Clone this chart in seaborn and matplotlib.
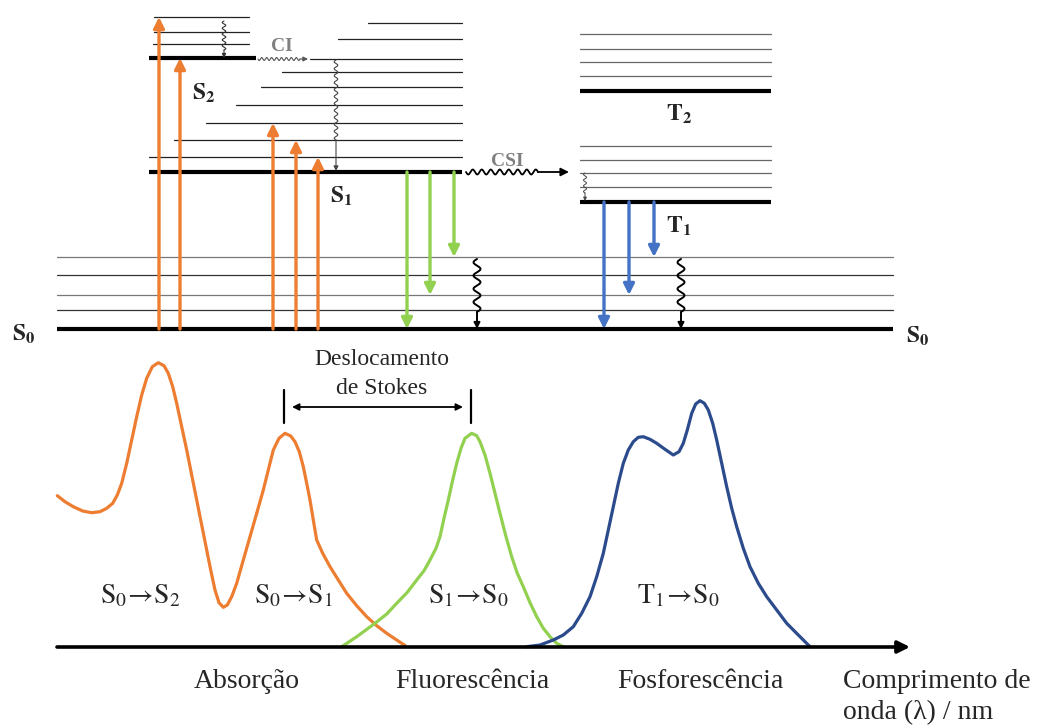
import numpy as np
import pandas as pd
import matplotlib
matplotlib.use("Agg")
import matplotlib.pyplot as plt
import seaborn as sns

# ---------------- data (diagram coordinates, y grows downward) ----------------
# singlet S2 vibrational levels
S2_VIB_Y = [17, 32, 44]
S2_VIB_X0 = [154, 154, 153]
S2_VIB_X1 = 249
S2_Y = 58
S2_XR = [149, 256]

# singlet S1 vibrational levels
S1_VIB_Y = [23, 39, 59, 72, 87, 105, 123, 140, 157]
S1_VIB_X0 = [368, 338, 310, 282, 261, 236, 206, 174, 149]
S1_VIB_X1 = 462
S1_Y = 172
S1_XR = [149, 462]

# triplets
T2_VIB_Y = [34, 49, 62, 76]
T2_Y = 91
T1_VIB_Y = [146, 160, 173, 187]
T1_Y = 202
T_XR = [580, 771]

# ground state
S0_VIB_Y = [257, 275, 295, 310]
S0_Y = 329
S0_XR = [57, 893]

# radiative transitions
ABS_X = [159, 180, 273, 296, 318]
ABS_TOP = [17, 58, 123, 140, 157]
FLU_X = [407, 430, 454]
FLU_END = [329, 295, 257]
PHO_X = [604, 629, 654]
PHO_END = [329, 295, 257]

# spectra (x, y)
ABS_CX = [57.3, 65, 73.3, 82.7, 91.7, 100, 106.7, 112.7, 117.3, 121.7, 126.7, 131.7, 136.7,
          141.7, 146.7, 152.3, 158.3, 164, 168.3, 172.7, 176.7, 181.7, 186.7, 191.7, 196.7,
          201.7, 206.7, 210.7, 215, 219, 223.3, 227.3, 231.7, 236.7, 243.3, 250, 256.7,
          263.3, 268.3, 273.3, 279, 285, 290.7, 295, 299.3, 303.3, 306.7, 310, 313.3,
          316.7, 322.7, 330, 338.3, 346.7, 356.7, 366.7, 376.7, 386.7, 396.7, 405]
ABS_CY = [495.7, 501.7, 506.7, 511, 512.7, 511.7, 508.3, 503.3, 495, 483.3, 463.3, 440, 416.7,
          395, 378.3, 366.7, 362.7, 365.7, 373.3, 386.7, 403.3, 426.7, 450, 475, 500,
          525, 550, 570, 590, 602.7, 607.3, 605, 596.7, 583.3, 560, 536.7, 513.3,
          490, 470, 450, 438.3, 433.3, 436, 441.7, 451.7, 466.7, 483.3, 500, 520,
          540, 553.3, 566.7, 580, 593.3, 605.7, 616.7, 625.7, 633.3, 640, 645.5]
FLU_CX = [341.7, 356.7, 375, 386.7, 396.7, 407.3, 416.7, 424, 430, 436, 440, 444, 448.3,
          452.7, 456.7, 461, 465, 471.7, 476.7, 480, 485, 490, 495, 500, 506, 511.7,
          517.3, 523.3, 530, 536.7, 543.3, 550, 556.7, 563.3]
FLU_CY = [646.7, 636.7, 623.3, 614, 603.3, 592.3, 580, 570.7, 560, 548.3, 536.7, 518.3, 500,
          480, 463.3, 448.3, 438.3, 433.3, 435.7, 441.7, 455, 473.3, 493.3, 513.3, 536.7, 556.7,
          573.3, 586.7, 602.7, 616.7, 628.3, 636.7, 643.3, 646.7]
PHO_CX = [526.7, 540, 553.3, 563.3, 573.3, 581.7, 590, 596.7, 603.3, 608.3, 613.3, 618.3,
          623.3, 628.3, 633.3, 638.3, 643.3, 650, 656.7, 665, 673.3, 679, 683.3, 687.3,
          691.7, 695.7, 700, 704.3, 708.3, 712.7, 716.7, 721.7, 726.7, 731.7, 736.7,
          743.3, 750, 758.3, 766.7, 776.7, 786.7, 798.3, 810]
PHO_CY = [646.7, 645, 640, 635, 626.7, 613.3, 596.7, 576.7, 553.3, 530, 506.7, 483.3,
          463.3, 450, 441.7, 437.3, 436.7, 439.3, 443.3, 449.3, 455, 451.7, 443.3, 430,
          413.3, 404, 400.7, 403.3, 410, 423.3, 440, 463.3, 486.7, 508.3, 526.7,
          548.3, 566.7, 583.3, 596.7, 610, 623.3, 635, 646.7]
AXIS_Y = 647
AXIS_X = [57, 910]

TRANS_LABELS = [r"$\mathrm{S_0\!\rightarrow\!S_2}$", r"$\mathrm{S_0\!\rightarrow\!S_1}$",
                r"$\mathrm{S_1\!\rightarrow\!S_0}$", r"$\mathrm{T_1\!\rightarrow\!S_0}$"]
TRANS_X = [141, 294, 469, 678]
BAND_LABELS = ["Absorção", "Fluorescência", "Fosforescência"]
BAND_X = [247, 472, 700]

ORANGE = "#ED7D31"
GREEN = "#92D050"
BLUE = "#4472C4"
NAVY = "#2C4B8C"

# ---------------- figure ----------------
sns.set_theme(style="white")
plt.rcParams["font.family"] = ["Liberation Serif", "DejaVu Serif"]
plt.rcParams["mathtext.fontset"] = "stix"

fig = plt.figure(figsize=(10.4, 7.25), dpi=100)
ax = fig.add_axes([0, 0, 1, 1])

thin = dict(color="#222222", lw=0.9)
thick = dict(color="black", lw=3.0, solid_capstyle="butt")

# S2
for y, x0 in zip(S2_VIB_Y, S2_VIB_X0):
    ax.plot([x0, S2_VIB_X1], [y, y], **thin)
ax.plot(S2_XR, [S2_Y, S2_Y], **thick)
# S1
for y, x0 in zip(S1_VIB_Y, S1_VIB_X0):
    ax.plot([x0, S1_VIB_X1], [y, y], **thin)
ax.plot(S1_XR, [S1_Y, S1_Y], **thick)
# T2/T1
for y in T2_VIB_Y + T1_VIB_Y:
    ax.plot(T_XR, [y, y], color="#666666", lw=0.9)
ax.plot(T_XR, [T2_Y, T2_Y], **thick)
ax.plot(T_XR, [T1_Y, T1_Y], **thick)
# S0
for i, y in enumerate(S0_VIB_Y):
    ax.plot(S0_XR, [y, y], color="#777777" if i % 2 == 0 else "#333333", lw=0.9)
ax.plot(S0_XR, [S0_Y, S0_Y], **thick)


def arrow(x0, y0, x1, y1, color, lw=2.4, ms=16, style="-|>"):
    ax.annotate("", xy=(x1, y1), xytext=(x0, y0),
                arrowprops=dict(arrowstyle=style, color=color, lw=lw,
                                mutation_scale=ms, shrinkA=0, shrinkB=0))


for x, t in zip(ABS_X, ABS_TOP):
    arrow(x, S0_Y, x, t, ORANGE)
for x, e in zip(FLU_X, FLU_END):
    arrow(x, S1_Y, x, e, GREEN)
for x, e in zip(PHO_X, PHO_END):
    arrow(x, T1_Y, x, e, BLUE)


def wavy_v(x, y0, y1, yend, amp, wl, color, lw, ms):
    n = max(1, round((y1 - y0) / wl * 2)) / 2
    t = np.linspace(0, 1, 300)
    ys = y0 + t * (y1 - y0)
    xs = x - amp * np.sin(2 * np.pi * n * t)
    ax.plot(xs, ys, color=color, lw=lw)
    arrow(x, y1, x, yend, color, lw=lw, ms=ms)


def wavy_h(y, x0, x1, xend, amp, wl, color, lw, ms):
    n = max(1, round((x1 - x0) / wl * 2)) / 2
    t = np.linspace(0, 1, 300)
    xs = x0 + t * (x1 - x0)
    ys = y + amp * np.sin(2 * np.pi * n * t)
    ax.plot(xs, ys, color=color, lw=lw)
    arrow(x1, y, xend, y, color, lw=lw, ms=ms)


wavy_v(224, 21, 50, 58, 1.8, 6, "#333333", 0.8, 6)
wavy_v(336, 60, 140, 171, 1.8, 7, "#444444", 0.8, 7)
wavy_v(585, 173, 193, 201, 1.5, 6, "#444444", 0.7, 5)
wavy_v(477, 259, 312, 329, 3.5, 13, "black", 1.4, 9)
wavy_v(681, 259, 312, 329, 3.5, 13, "black", 1.4, 9)
wavy_h(59, 258, 300, 308, 1.5, 5, "#555555", 0.8, 7)
wavy_h(172, 466, 538, 569, 2.5, 9, "black", 1.3, 12)

ax.text(282, 46, "CI", fontsize=14, fontweight="bold", color="#808080", ha="center", va="center")
ax.text(507, 161, "CSI", fontsize=14, fontweight="bold", color="#808080", ha="center", va="center")

lab = dict(fontsize=17, ha="left", va="center")
ax.text(192, 93, r"$\mathbf{S_2}$", **lab)
ax.text(330, 196, r"$\mathbf{S_1}$", **lab)
ax.text(666, 114, r"$\mathbf{T_2}$", **lab)
ax.text(666, 226, r"$\mathbf{T_1}$", **lab)
ax.text(12, 334, r"$\mathbf{S_0}$", **lab)
ax.text(906, 336, r"$\mathbf{S_0}$", **lab)

# spectra via seaborn
curves = [(ABS_CX, ABS_CY, ORANGE), (FLU_CX, FLU_CY, GREEN), (PHO_CX, PHO_CY, NAVY)]
for cx, cy, col in curves:
    df = pd.DataFrame({"x": cx, "y": cy})
    sns.lineplot(data=df, x="x", y="y", sort=False, estimator=None, color=col,
                 lw=2.3, ax=ax)
    ax.lines[-1].set_solid_joinstyle("round")
ax.set_xlim(0, 1040)
ax.set_ylim(725, 0)
ax.axis("off")

arrow(AXIS_X[0], AXIS_Y, AXIS_X[1], AXIS_Y, "black", lw=2.6, ms=18)

# Stokes shift
ax.plot([284, 284], [390, 423], color="black", lw=1.6)
ax.plot([471, 471], [390, 423], color="black", lw=1.6)
arrow(292, 407, 463, 407, "black", lw=1.3, ms=10, style="<|-|>")
ax.text(382, 359, "Deslocamento", fontsize=17, ha="center", va="center")
ax.text(382, 388, "de Stokes", fontsize=17, ha="center", va="center")

for s, x in zip(TRANS_LABELS, TRANS_X):
    ax.text(x, 596, s, fontsize=20, ha="center", va="center")
for s, x in zip(BAND_LABELS, BAND_X):
    ax.text(x, 681, s, fontsize=20, ha="center", va="center")
ax.text(843, 681, "Comprimento de", fontsize=20, ha="left", va="center")
ax.text(843, 713, "onda (λ) / nm", fontsize=20, ha="left", va="center")

fig.savefig("out.png", dpi=100)
